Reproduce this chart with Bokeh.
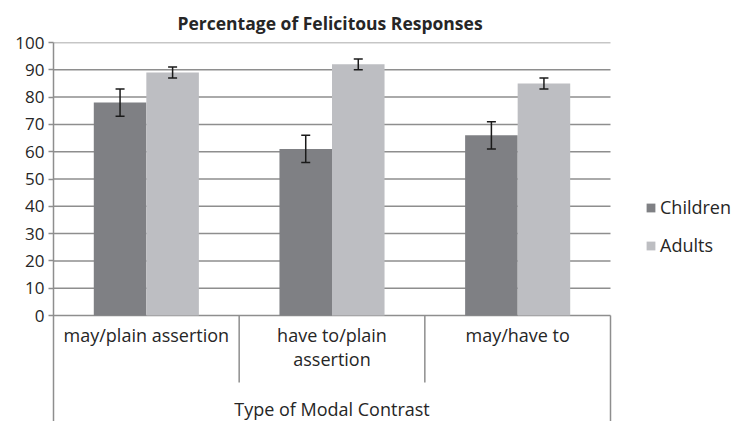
from bokeh.plotting import figure
from bokeh.models import (ColumnDataSource, Range1d, FixedTicker, Whisker,
                          TeeHead, Legend, LegendItem, Title)
from bokeh.core.properties import value
from bokeh.embed import file_html
from bokeh.resources import INLINE

categories = ["may/plain assertion", "have to/plain assertion", "may/have to"]
cat_labels = ["may/plain assertion", "have to/plain\nassertion", "may/have to"]
children = [78, 61, 66]
children_err = [5, 5, 5]
adults = [89, 92, 85]
adults_err = [2, 2, 2]
y_ticks = list(range(0, 101, 10))

FONT = "Open Sans"
TXT = "#262626"
GRID = "#8e8e8e"
C_CHILD = "#7f8084"
C_ADULT = "#bdbec2"

W, H = 732, 421
LEFT, TOP = 53, 42
plot_w = 557                     # width of the category area in px
frame_w = W - LEFT
frame_h = H - TOP
n = len(categories)
px_per_cat = plot_w / n
x_end = frame_w / px_per_cat
px_per_unit = 2.73
y_min = 100 - frame_h / px_per_unit

centers = [i + 0.5 for i in range(n)]
bw = 0.283
off = bw / 2

src = ColumnDataSource(dict(
    xc=[c - off for c in centers],
    xa=[c + off for c in centers],
    children=children,
    c_up=[v + e for v, e in zip(children, children_err)],
    c_lo=[v - e for v, e in zip(children, children_err)],
    adults=adults,
    a_up=[v + e for v, e in zip(adults, adults_err)],
    a_lo=[v - e for v, e in zip(adults, adults_err)],
))

p = figure(width=W, height=H, x_range=Range1d(0, x_end), y_range=Range1d(y_min, 100),
           output_backend="svg", toolbar_location=None,
           min_border_left=LEFT, min_border_right=0, min_border_top=TOP, min_border_bottom=0)
p.outline_line_color = None
p.background_fill_color = "white"
p.border_fill_color = "white"

p.add_layout(Title(text="Percentage of Felicitous Responses", align="left",
                   offset=124,
                   text_font=FONT, text_font_size="17.5px", text_font_style="bold",
                   text_color=TXT, standoff=16), "above")

# gridlines only across the category area
p.segment(x0=[0] * len(y_ticks), y0=y_ticks, x1=[n] * len(y_ticks), y1=y_ticks,
          line_color=GRID, line_width=1.5)

r1 = p.vbar(x="xc", top="children", bottom=0, width=bw, source=src,
            fill_color=C_CHILD, line_color=None)
r2 = p.vbar(x="xa", top="adults", bottom=0, width=bw, source=src,
            fill_color=C_ADULT, line_color=None)

for base, up, lo in [("xc", "c_up", "c_lo"), ("xa", "a_up", "a_lo")]:
    w = Whisker(base=base, upper=up, lower=lo, source=src, line_color="#1a1a1a", line_width=1.5,
                level="overlay",
                upper_head=TeeHead(size=9, line_color="#1a1a1a", line_width=1.5),
                lower_head=TeeHead(size=9, line_color="#1a1a1a", line_width=1.5))
    p.add_layout(w)

p.xaxis.visible = False
p.xgrid.visible = False
p.ygrid.visible = False

ya = p.yaxis[0]
ya.ticker = FixedTicker(ticks=y_ticks)
ya.axis_line_color = GRID
ya.axis_line_width = 1.5
ya.major_tick_line_color = GRID
ya.major_tick_line_width = 1.5
ya.major_tick_out = 5
ya.major_tick_in = 0
ya.minor_tick_line_color = None
ya.major_label_text_font = FONT
ya.major_label_text_font_size = "17px"
ya.major_label_text_color = TXT
ya.major_label_standoff = 4

div_bottom = -24.5
p.segment(x0=list(range(1, n)), y0=[0] * (n - 1), x1=list(range(1, n)), y1=[div_bottom] * (n - 1),
          line_color=GRID, line_width=1.5)
p.segment(x0=[n], y0=[0], x1=[n], y1=[y_min], line_color=GRID, line_width=1.5)

p.text(x=centers, y=[-2.8] * n, text=cat_labels, text_font=value(FONT), text_font_size="18px",
       text_color=TXT, text_align="center", text_baseline="top", text_line_height=1.0)
p.text(x=[n / 2], y=[-34.4], text=["Type of Modal Contrast"], text_font=value(FONT),
       text_font_size="18px", text_color=TXT, text_align="center", text_baseline="middle")

legend = Legend(items=[LegendItem(label="Children", renderers=[r1]),
                       LegendItem(label="Adults", renderers=[r2])],
                location=(592, 164), orientation="vertical",
                label_text_font=FONT, label_text_font_size="18px", label_text_color=TXT,
                glyph_width=11, glyph_height=11, label_standoff=4, label_height=20, spacing=14,
                padding=0, margin=0, border_line_color=None, background_fill_alpha=0)
p.add_layout(legend, "center")

open("out.html", "w").write(file_html(p, INLINE))
